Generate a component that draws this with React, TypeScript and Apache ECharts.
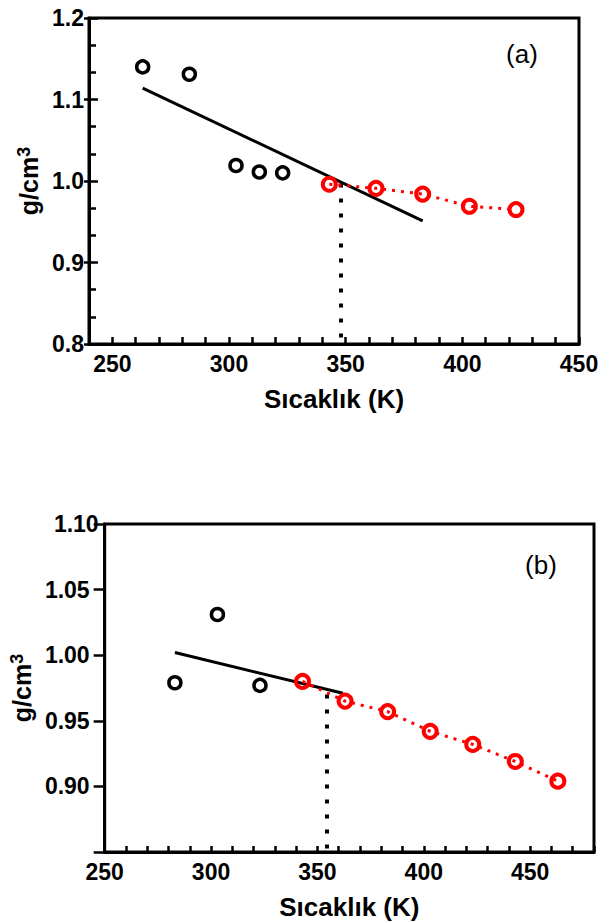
import React, { useEffect, useRef } from "react";
import * as echarts from "echarts";

// ---- Panel (a) data ----
const tempsALow = [263, 283, 303, 313, 323];
const densALow = [1.14, 1.131, 1.019, 1.011, 1.01];
const tempsAHigh = [343, 363, 383, 403, 423];
const densAHigh = [0.996, 0.991, 0.984, 0.969, 0.965];
const fitATemps = [263, 383];
const fitADens = [1.114, 0.951];
const transATemp = 348;
const transADens = [0.997, 0.8];

// ---- Panel (b) data ----
const tempsBLow = [283, 303, 323];
const densBLow = [0.979, 1.031, 0.977];
const tempsBHigh = [343, 363, 383, 403, 423, 443, 463];
const densBHigh = [0.98, 0.965, 0.957, 0.942, 0.932, 0.919, 0.904];
const fitBTemps = [283, 362];
const fitBDens = [1.002, 0.971];
const transBTemp = 354.5;
const transBDens = [0.97, 0.85];

// ---- tick labels ----
const xLabelsA = [250, 300, 350, 400, 450];
const xLabelsB = [250, 300, 350, 400, 450];
const yLabelsA = ["0.8", "0.9", "1.0", "1.1", "1.2"];
const yLabelsB = ["0.90", "0.95", "1.00", "1.05"];
const yTopLabelB = ["1.10"];

const FONT = "'Liberation Sans', Arial, sans-serif";
const RED = "#ff0000";

const pairs = (xs: number[], ys: number[]) => xs.map((x, i) => [x, ys[i]]);

const tickLabelStyle = {
  color: "#000",
  fontSize: 23,
  fontWeight: "bold" as const,
  fontFamily: FONT,
};

const xName = {
  name: "Sıcaklık (K)",
  nameLocation: "middle" as const,
  nameTextStyle: { color: "#000", fontSize: 26, fontWeight: "bold" as const, fontFamily: FONT },
};

const yNameRich = {
  name: "{a|g/cm}{b|3}",
  nameLocation: "middle" as const,
  nameRotate: 90,
  nameTextStyle: {
    rich: {
      a: { fontSize: 25, fontWeight: "bold" as const, fontFamily: FONT, color: "#000", lineHeight: 27 },
      b: { fontSize: 18, fontWeight: "bold" as const, fontFamily: FONT, color: "#000", verticalAlign: "top" as const, lineHeight: 18 },
    },
  },
};

const matchLabel = (v: number, list: (string | number)[], digits: number) => {
  const s = v.toFixed(digits);
  return list.map(String).includes(s) ? s : "";
};

const xFormatter = (list: number[]) => (v: number) =>
  list.includes(Math.round(v)) && Math.abs(v - Math.round(v)) < 1e-6 ? String(Math.round(v)) : "";

export default function App() {
  const ref = useRef<HTMLDivElement>(null);

  useEffect(() => {
    if (!ref.current) return;
    const chart = echarts.init(ref.current, undefined, { renderer: "svg" });

    const tickLine = { color: "#000", width: 2.5 };

    const option: any = {
      animation: false,
      backgroundColor: "#fff",
      grid: [
        { left: 89, top: 18, width: 490, height: 326, show: true, borderColor: "#000", borderWidth: 3, backgroundColor: "transparent" },
        { left: 102, top: 524, width: 492, height: 328, show: true, borderColor: "#000", borderWidth: 3, backgroundColor: "transparent" },
      ],
      xAxis: [
        {
          gridIndex: 0,
          type: "value",
          min: 240,
          max: 450,
          interval: 10,
          axisLine: { lineStyle: { color: "#000", width: 3 } },
          axisTick: { inside: true, length: 7, lineStyle: tickLine },
          axisLabel: { ...tickLabelStyle, margin: 8, formatter: xFormatter(xLabelsA) },
          splitLine: { show: false },
          ...xName,
          nameGap: 42,
        },
        {
          gridIndex: 1,
          type: "value",
          min: 250,
          max: 480,
          interval: 10,
          axisLine: { lineStyle: { color: "#000", width: 3 } },
          axisTick: { inside: true, length: 6, lineStyle: tickLine },
          axisLabel: { ...tickLabelStyle, margin: 8, formatter: xFormatter(xLabelsB) },
          splitLine: { show: false },
          ...xName,
          nameGap: 42,
        },
      ],
      yAxis: [
        {
          gridIndex: 0,
          type: "value",
          position: "left",
          min: 0.8,
          max: 1.2,
          interval: 0.1,
          axisLine: { lineStyle: { color: "#000", width: 3 } },
          axisTick: { inside: true, length: 9, lineStyle: tickLine },
          minorTick: { show: true, splitNumber: 3, length: 7, lineStyle: tickLine },
          axisLabel: { ...tickLabelStyle, margin: 5, formatter: (v: number) => matchLabel(v, yLabelsA, 1) },
          splitLine: { show: false },
          minorSplitLine: { show: false },
          ...yNameRich,
          nameGap: 45,
        },
        {
          gridIndex: 0,
          type: "value",
          position: "left",
          min: 0.8,
          max: 1.2,
          interval: 0.1,
          axisLine: { show: false },
          axisTick: { show: true, inside: false, length: 5, lineStyle: tickLine },
          axisLabel: { show: false },
          splitLine: { show: false },
        },
        {
          gridIndex: 1,
          type: "value",
          position: "left",
          min: 0.85,
          max: 1.1,
          interval: 0.05,
          axisLine: { lineStyle: { color: "#000", width: 3 } },
          axisTick: { inside: false, length: 11, lineStyle: tickLine },
          axisLabel: { ...tickLabelStyle, margin: 15, formatter: (v: number) => matchLabel(v, yLabelsB, 2) },
          splitLine: { show: false },
          ...yNameRich,
          nameGap: 56,
        },
        {
          gridIndex: 1,
          type: "value",
          position: "left",
          min: 0.85,
          max: 1.1,
          interval: 0.05,
          axisLine: { show: false },
          axisTick: { show: false },
          axisLabel: { ...tickLabelStyle, margin: 6, formatter: (v: number) => matchLabel(v, yTopLabelB, 2) },
          splitLine: { show: false },
        },
      ],
      series: [
        // panel (a)
        {
          type: "line",
          xAxisIndex: 0,
          yAxisIndex: 0,
          data: pairs(fitATemps, fitADens),
          symbol: "none",
          lineStyle: { color: "#000", width: 3 },
          z: 2,
        },
        {
          type: "line",
          xAxisIndex: 0,
          yAxisIndex: 0,
          data: transADens.map((d) => [transATemp, d]),
          symbol: "none",
          lineStyle: { color: "#000", width: 4, type: [4, 11] },
          z: 2,
        },
        {
          type: "scatter",
          xAxisIndex: 0,
          yAxisIndex: 0,
          data: pairs(tempsALow, densALow),
          symbol: "circle",
          symbolSize: 12,
          itemStyle: { color: "#fff", borderColor: "#000", borderWidth: 3.5, opacity: 1 },
          z: 3,
        },
        {
          type: "line",
          xAxisIndex: 0,
          yAxisIndex: 0,
          data: pairs(tempsAHigh, densAHigh),
          symbol: "circle",
          symbolSize: 13,
          showAllSymbol: true,
          itemStyle: { color: "rgba(255,255,255,0)", borderColor: RED, borderWidth: 4 },
          lineStyle: { color: RED, width: 3, type: [3, 6] },
          z: 4,
        },
        // panel (b)
        {
          type: "line",
          xAxisIndex: 1,
          yAxisIndex: 2,
          data: pairs(fitBTemps, fitBDens),
          symbol: "none",
          lineStyle: { color: "#000", width: 3 },
          z: 2,
        },
        {
          type: "line",
          xAxisIndex: 1,
          yAxisIndex: 2,
          data: transBDens.map((d) => [transBTemp, d]),
          symbol: "none",
          lineStyle: { color: "#000", width: 4, type: [4, 11] },
          z: 2,
        },
        {
          type: "scatter",
          xAxisIndex: 1,
          yAxisIndex: 2,
          data: pairs(tempsBLow, densBLow),
          symbol: "circle",
          symbolSize: 12,
          itemStyle: { color: "#fff", borderColor: "#000", borderWidth: 3.5, opacity: 1 },
          z: 3,
        },
        {
          type: "line",
          xAxisIndex: 1,
          yAxisIndex: 2,
          data: pairs(tempsBHigh, densBHigh),
          symbol: "circle",
          symbolSize: 13,
          showAllSymbol: true,
          itemStyle: { color: "rgba(255,255,255,0)", borderColor: RED, borderWidth: 4 },
          lineStyle: { color: RED, width: 3, type: [3, 6] },
          z: 4,
        },
      ],
      graphic: [
        {
          type: "text",
          x: 522,
          y: 54,
          style: { text: "(a)", fontSize: 26, fontFamily: FONT, fill: "#000", align: "center", verticalAlign: "middle" },
        },
        {
          type: "text",
          x: 541,
          y: 565,
          style: { text: "(b)", fontSize: 26, fontFamily: FONT, fill: "#000", align: "center", verticalAlign: "middle" },
        },
      ],
    };

    chart.setOption(option);
    return () => chart.dispose();
  }, []);

  return (
    <div
      ref={ref}
      style={{ position: "fixed", left: 0, top: 0, width: 610, height: 923, background: "#fff" }}
    />
  );
}
